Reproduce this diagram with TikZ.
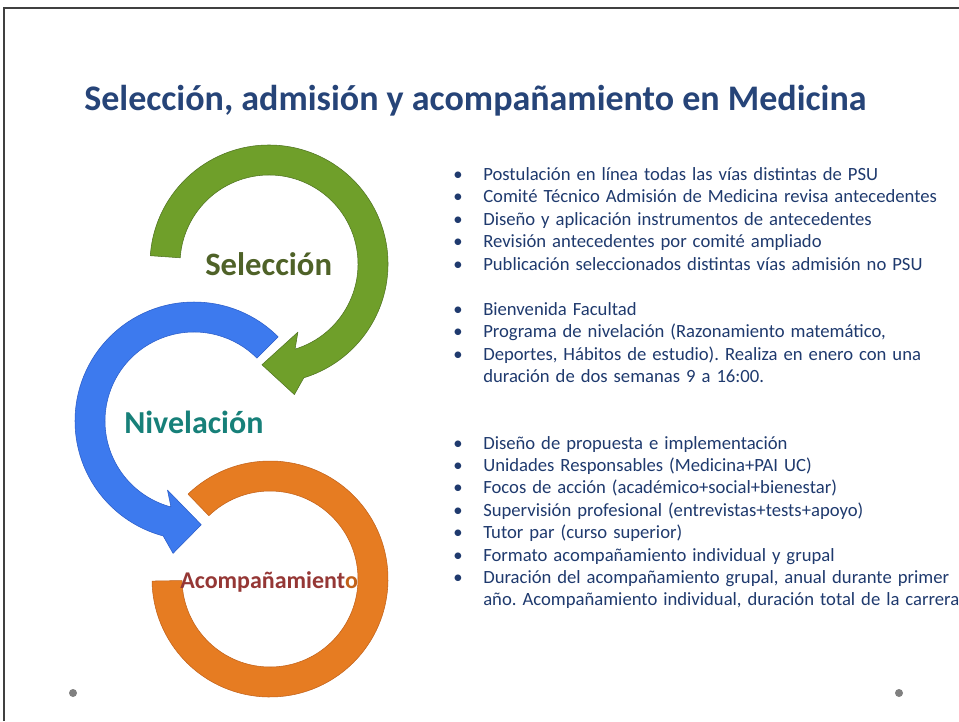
\documentclass[tikz,border=0pt]{standalone}
\usepackage{fontspec}
\setmainfont{Carlito}
\frenchspacing
\newcommand\wordgap{\spaceskip=0.32em plus 0.1em\relax}
\definecolor{titleblue}{HTML}{264478}
\definecolor{textnavy}{HTML}{1F3A6E}
\definecolor{selgreen}{HTML}{6F9F2A}
\definecolor{selgreendark}{HTML}{4F7320}
\definecolor{selgreentext}{HTML}{4F6228}
\definecolor{nivblue}{HTML}{3D7AEE}
\definecolor{nivbluedark}{HTML}{2A5CC8}
\definecolor{nivteal}{HTML}{178079}
\definecolor{acoorange}{HTML}{E67C22}
\definecolor{acoorangedark}{HTML}{C2621A}
\definecolor{acobrown}{HTML}{953735}
\definecolor{framegray}{HTML}{404040}

\begin{document}
\begin{tikzpicture}[
    title/.style={anchor=base west, inner sep=0pt, text=titleblue, font=\bfseries\fontsize{27}{32}\selectfont},
    stage/.style={anchor=base west, inner sep=0pt, font=\bfseries\fontsize{24.5}{30}\selectfont},
    item/.style={anchor=base west, inner sep=0pt, text=textnavy, font=\fontsize{14}{17}\selectfont\wordgap},
    band/.style={line width=0.4pt, line join=round},
    dot/.style={circle, fill=gray, inner sep=0pt, minimum size=6pt},
    x=0.75pt, y=0.75pt]

    % ----- page: frame lines, as in the slide
    \useasboundingbox (0,0) rectangle (959,-721);
    \fill[white] (0,0) rectangle (959,-721);
    \draw[framegray, line width=1.5pt] (4,-721) -- (4,-8) -- (959,-8);

    \node[title] (title) at (84,-110) {Selección, admisión y acompañamiento en Medicina};

    % ----- the three rings: orange first, green on top
    \fill[acoorange, draw=acoorangedark, band, shift={(270,-579)}]
        (134:118) arc[start angle=134, end angle=-179, radius=118]
        -- (-179:88) arc[start angle=-179, end angle=134, radius=88] -- cycle;
    \fill[nivblue, draw=nivbluedark, band, shift={(194,-421)}]
        (45:119) arc[start angle=45, end angle=255, radius=119]
        -- (261:134) -- (274:104) -- (249:74) -- (255:89)
        arc[start angle=255, end angle=45, radius=89] -- cycle;
    \fill[selgreen, draw=selgreendark, band, shift={(269,-264)}]
        (176:119) arc[start angle=176, end angle=-73, radius=119]
        -- (-79:133) -- (-94:101) -- (-67:74) -- (-73:89)
        arc[start angle=-73, end angle=176, radius=89] -- cycle;

    \node[stage, text=selgreentext] (sel) at (205,-275) {Selección};
    \node[stage, text=nivteal, font=\bfseries\fontsize{24}{30}\selectfont] (niv) at (124,-433) {Nivelación};
    \node[stage, text=acobrown, font=\bfseries\fontsize{18}{22}\selectfont] (aco) at (180,-588)
        {Acompañamient\textcolor{acoorangedark}{o}};

    % ----- selección
    \node[item] (s1) at (453,-180) {\makebox[22.5pt][l]{•}Postulación en línea todas las vías distintas de PSU};
    \node[item] (s2) at (453,-202.5) {\makebox[22.5pt][l]{•}Comité Técnico Admisión de Medicina revisa antecedentes};
    \node[item] (s3) at (453,-225) {\makebox[22.5pt][l]{•}Diseño y aplicación instrumentos de antecedentes};
    \node[item] (s4) at (453,-247.5) {\makebox[22.5pt][l]{•}Revisión antecedentes por comité ampliado};
    \node[item] (s5) at (453,-270) {\makebox[22.5pt][l]{•}Publicación seleccionados distintas vías admisión no PSU};

    % ----- nivelación
    \node[item] (n1) at (453,-315) {\makebox[22.5pt][l]{•}Bienvenida Facultad};
    \node[item] (n2) at (453,-337.5) {\makebox[22.5pt][l]{•}Programa de nivelación (Razonamiento matemático,};
    \node[item] (n3) at (453,-360) {\makebox[22.5pt][l]{•}Deportes, Hábitos de estudio). Realiza en enero con una};
    \node[item] (n4) at (483,-382.5) {duración de dos semanas 9 a 16:00.};

    % ----- acompañamiento
    \node[item] (a1) at (453,-449) {\makebox[22.5pt][l]{•}Diseño de propuesta e implementación};
    \node[item] (a2) at (453,-471.4) {\makebox[22.5pt][l]{•}Unidades Responsables (Medicina+PAI UC)};
    \node[item] (a3) at (453,-493.8) {\makebox[22.5pt][l]{•}Focos de acción (académico+social+bienestar)};
    \node[item] (a4) at (453,-516.2) {\makebox[22.5pt][l]{•}Supervisión profesional (entrevistas+tests+apoyo)};
    \node[item] (a5) at (453,-538.6) {\makebox[22.5pt][l]{•}Tutor par (curso superior)};
    \node[item] (a6) at (453,-561) {\makebox[22.5pt][l]{•}Formato acompañamiento individual y grupal};
    \node[item] (a7) at (453,-583.4) {\makebox[22.5pt][l]{•}Duración del acompañamiento grupal, anual durante primer};
    \node[item] (a8) at (483,-605.8) {año. Acompañamiento individual, duración total de la carrera};

    \node[dot] (dl) at (73,-693) {};
    \node[dot] (dr) at (899,-693) {};
\end{tikzpicture}
\end{document}
